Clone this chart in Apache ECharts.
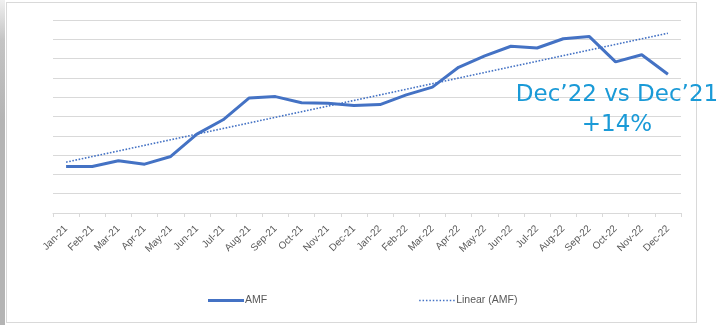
<!DOCTYPE html>
<html>
<head>
<meta charset="utf-8">
<style>
  html, body { margin: 0; padding: 0; background: #ffffff; }
  #wrap { position: relative; width: 720px; height: 325px; overflow: hidden; background: #ffffff; }
  #edge { position: absolute; left: 0; top: 0; width: 5px; height: 325px;
          background: linear-gradient(to bottom, #f0f0f0 0px, #c4c4c4 40px, #b4b4b4 120px, #b4b4b4 325px); }
  #frame { position: absolute; left: 6px; top: 2px; width: 689px; height: 319px;
           border: 1px solid #d9d9d9; background: #ffffff; }
  #chart { position: absolute; left: 0; top: 0; width: 720px; height: 325px; }
</style>
<script src="https://cdn.jsdelivr.net/npm/echarts@6/dist/echarts.min.js"></script>
</head>
<body>
<div id="wrap">
  <div id="edge"></div>
  <div id="frame"></div>
  <div id="chart"></div>
</div>
<script>
// Monthly AMF, Jan-21 .. Dec-22
const months = ['Jan-21','Feb-21','Mar-21','Apr-21','May-21','Jun-21','Jul-21','Aug-21','Sep-21','Oct-21','Nov-21','Dec-21',
                'Jan-22','Feb-22','Mar-22','Apr-22','May-22','Jun-22','Jul-22','Aug-22','Sep-22','Oct-22','Nov-22','Dec-22'];
const amf = [84.1, 84.1, 87.1, 85.3, 89.3, 100.9, 108.3, 119.6, 120.3, 117.1, 116.9, 115.7,
             116.2, 121.2, 125.2, 135.5, 141.4, 146.4, 145.5, 150.3, 151.4, 138.3, 142.0, 131.9];
const noteLines = ['Dec\u201922 vs Dec\u201921', '+14%'];

// Least-squares linear trend of the AMF series
function linearTrend(values) {
  const n = values.length;
  let sx = 0, sy = 0, sxx = 0, sxy = 0;
  values.forEach((v, i) => { sx += i; sy += v; sxx += i * i; sxy += i * v; });
  const slope = (n * sxy - sx * sy) / (n * sxx - sx * sx);
  const icpt = (sy - slope * sx) / n;
  return values.map((_, i) => +(icpt + slope * i).toFixed(2));
}
const trend = linearTrend(amf);

// Legend icons: a solid bar and a row of small dots, both 36 x 3
const solidIcon = 'path://M0,0 L36,0 L36,3 L0,3 Z';
let dots = '';
for (let x = 0; x < 34; x += 3.4) {
  dots += 'M' + x.toFixed(1) + ',0.8 L' + (x + 1.5).toFixed(1) + ',0.8 L' + (x + 1.5).toFixed(1) + ',2.2 L' + x.toFixed(1) + ',2.2 Z ';
}
const dottedIcon = 'path://M0,0 L0.01,0 L0.01,0.01 Z M36,3 L35.99,3 L35.99,2.99 Z ' + dots;

const labelFont = '"Liberation Sans Narrow", "Liberation Sans", "Noto Sans", sans-serif';
const blue = '#4472c4';
const grey = '#595959';

const chart = echarts.init(document.getElementById('chart'), null, { renderer: 'canvas' });
chart.setOption({
  animation: false,
  backgroundColor: 'transparent',
  grid: { left: 53, right: 39, top: 20, bottom: 112 },
  xAxis: {
    type: 'category',
    data: months,
    boundaryGap: true,
    axisLine: { lineStyle: { color: '#d9d9d9', width: 1 } },
    axisTick: { show: true, length: 4, lineStyle: { color: '#d9d9d9' } },
    axisLabel: { rotate: 45, interval: 0, margin: 14, color: grey, fontSize: 10, fontFamily: labelFont }
  },
  yAxis: {
    type: 'value',
    min: 60, max: 160, interval: 10,
    axisLabel: { show: false },
    axisLine: { show: false },
    axisTick: { show: false },
    splitLine: { lineStyle: { color: '#d9d9d9', width: 1.2 } }
  },
  legend: {
    left: 203, top: 290,
    itemGap: 152,
    itemWidth: 36, itemHeight: 12,
    textStyle: { color: grey, fontSize: 10.5, fontFamily: labelFont, padding: [0, 0, 0, -4] },
    data: [
      { name: 'AMF', icon: solidIcon, itemStyle: { color: blue } },
      { name: 'Linear (AMF)', icon: dottedIcon, itemStyle: { color: blue } }
    ]
  },
  series: [
    {
      name: 'AMF', type: 'line', data: amf,
      symbol: 'none', smooth: false,
      lineStyle: { color: blue, width: 3 },
      itemStyle: { color: blue },
      z: 3
    },
    {
      name: 'Linear (AMF)', type: 'line', data: trend,
      symbol: 'none',
      lineStyle: { color: blue, width: 1.6, type: [1.6, 1.6] },
      itemStyle: { color: blue },
      z: 2
    }
  ],
  graphic: [
    { type: 'text', x: 617, y: 95, z: 10,
      style: { text: noteLines[0], align: 'center', verticalAlign: 'middle',
               font: '23px "DejaVu Sans", Verdana, sans-serif', fill: '#1a9ad7' } },
    { type: 'text', x: 617, y: 125, z: 10,
      style: { text: noteLines[1], align: 'center', verticalAlign: 'middle',
               font: '23px "DejaVu Sans", Verdana, sans-serif', fill: '#1a9ad7' } }
  ]
});
</script>
</body>
</html>
